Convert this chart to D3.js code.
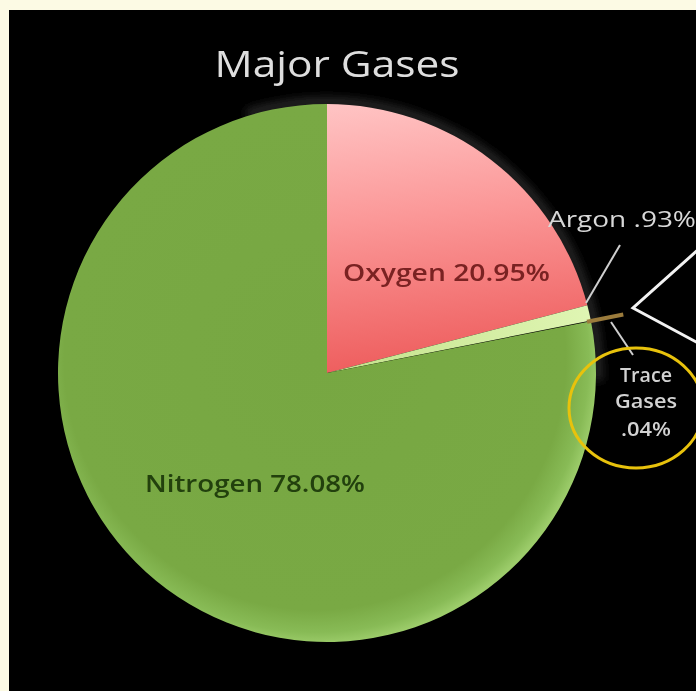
<!DOCTYPE html>
<html>
<head>
<meta charset="utf-8">
<script src="https://cdn.jsdelivr.net/npm/d3@7"></script>
<style>
  html, body { margin: 0; padding: 0; background: #fcfae4; }
  svg { display: block; }
</style>
</head>
<body>
<svg id="chart" width="696" height="691"></svg>
<script>
// ---- data ----
const categories = ["Oxygen", "Argon", "Trace Gases", "Nitrogen"];
const values = [20.95, 0.93, 0.04, 78.08];
const labelTexts = ["Oxygen 20.95%", "Argon .93%", "Trace Gases .04%", "Nitrogen 78.08%"];
const chartTitle = "Major Gases";

// ---- layout ----
const W = 696, H = 691;
const cx = 327, cy = 373, R = 269;
const FONT = "'Comic Sans MS', 'Open Sans', 'Noto Sans', sans-serif";

const svg = d3.select("#chart");
const defs = svg.append("defs");

// gradients (coordinates relative to pie centre, since slices live in a translated group)
const gN = defs.append("radialGradient").attr("id", "gN")
  .attr("gradientUnits", "userSpaceOnUse")
  .attr("cx", -12).attr("cy", -14).attr("r", R + 16);
gN.append("stop").attr("offset", 0).attr("stop-color", "#77a742");
gN.append("stop").attr("offset", 0.88).attr("stop-color", "#79a944");
gN.append("stop").attr("offset", 0.96).attr("stop-color", "#88bb56");
gN.append("stop").attr("offset", 1).attr("stop-color", "#9ccc6a");

const gO = defs.append("linearGradient").attr("id", "gO")
  .attr("gradientUnits", "userSpaceOnUse")
  .attr("x1", 0).attr("y1", -R).attr("x2", 30).attr("y2", 0);
gO.append("stop").attr("offset", 0).attr("stop-color", "#ffc4c4");
gO.append("stop").attr("offset", 0.45).attr("stop-color", "#fb9797");
gO.append("stop").attr("offset", 1).attr("stop-color", "#ee5e5e");

const gA = defs.append("linearGradient").attr("id", "gA")
  .attr("gradientUnits", "userSpaceOnUse")
  .attr("x1", 0).attr("y1", 0).attr("x2", R).attr("y2", -50);
gA.append("stop").attr("offset", 0).attr("stop-color", "#c2e28a");
gA.append("stop").attr("offset", 1).attr("stop-color", "#e0f6b4");

const blur = defs.append("filter").attr("id", "halo")
  .attr("x", "-20%").attr("y", "-20%").attr("width", "140%").attr("height", "140%");
blur.append("feGaussianBlur").attr("stdDeviation", 5);

const textBlur = defs.append("filter").attr("id", "soft");
textBlur.append("feGaussianBlur").attr("stdDeviation", 0.45);

const fills = { "Oxygen": "url(#gO)", "Argon": "url(#gA)", "Trace Gases": "#9b7b3c", "Nitrogen": "url(#gN)" };

// background panel
svg.append("rect").attr("x", 0).attr("y", 0).attr("width", W).attr("height", H).attr("fill", "#fcfae4");
svg.append("rect").attr("x", 9).attr("y", 10).attr("width", W - 9).attr("height", H - 10).attr("fill", "#000");

// title
svg.append("text")
  .attr("x", 337).attr("y", 77)
  .attr("text-anchor", "middle")
  .attr("font-family", FONT).attr("font-size", 36)
  .attr("textLength", 245).attr("lengthAdjust", "spacingAndGlyphs")
  .attr("fill", "#dedede")
  .attr("filter", "url(#soft)")
  .text(chartTitle);

// pie
const data = categories.map((c, i) => ({ name: c, value: values[i], label: labelTexts[i] }));
const pie = d3.pie().sort(null).value(d => d.value).startAngle(0).endAngle(2 * Math.PI);
const arcs = pie(data);
const arc = d3.arc().innerRadius(0).outerRadius(R);

const g = svg.append("g").attr("transform", `translate(${cx},${cy})`);

// soft dark-grey halo on the upper right of the pie
const haloArc = d3.arc().innerRadius(R - 2).outerRadius(R + 6)
  .startAngle(-0.3).endAngle(1.6);
g.append("path").attr("d", haloArc()).attr("fill", "#2e2e2e").attr("filter", "url(#halo)");

g.selectAll("path.slice")
  .data(arcs.filter(d => d.data.name !== "Trace Gases"))
  .join("path")
  .attr("class", "slice")
  .attr("d", arc)
  .attr("fill", d => fills[d.data.name]);

// trace gases: tiny slice drawn as a radial stroke that pokes outside the pie
const trace = arcs.find(d => d.data.name === "Trace Gases");
const ta = (trace.startAngle + trace.endAngle) / 2;
const polar = (a, r) => [Math.sin(a) * r, -Math.cos(a) * r];
const t0 = polar(ta, R - 4), t1 = polar(ta, R + 33);
g.append("line")
  .attr("x1", t0[0]).attr("y1", t0[1]).attr("x2", t1[0]).attr("y2", t1[1])
  .attr("stroke", fills["Trace Gases"]).attr("stroke-width", 4);

// slice labels
svg.append("text")
  .attr("x", 343).attr("y", 281)
  .attr("font-family", FONT).attr("font-size", 23).attr("font-weight", 600)
  .attr("textLength", 207).attr("lengthAdjust", "spacingAndGlyphs")
  .attr("fill", "#7a2222").attr("filter", "url(#soft)")
  .text(labelTexts[0]);

svg.append("text")
  .attr("x", 145).attr("y", 492)
  .attr("font-family", FONT).attr("font-size", 23).attr("font-weight", 600)
  .attr("textLength", 220).attr("lengthAdjust", "spacingAndGlyphs")
  .attr("fill", "#22400d").attr("filter", "url(#soft)")
  .text(labelTexts[3]);

svg.append("text")
  .attr("x", 548).attr("y", 227)
  .attr("font-family", FONT).attr("font-size", 22)
  .attr("textLength", 148).attr("lengthAdjust", "spacingAndGlyphs")
  .attr("fill", "#d8d8d8").attr("filter", "url(#soft)")
  .text(labelTexts[1]);

// trace label (three lines)
const traceLines = ["Trace", "Gases", ".04%"];
const traceW = [52, 62, 50];
const traceY = [382, 408, 436];
traceLines.forEach((t, i) => {
  svg.append("text")
    .attr("x", 646).attr("y", traceY[i])
    .attr("text-anchor", "middle")
    .attr("font-family", FONT).attr("font-size", 19).attr("font-weight", 600)
    .attr("textLength", traceW[i]).attr("lengthAdjust", "spacingAndGlyphs")
    .attr("fill", "#d2d2d2").attr("filter", "url(#soft)")
    .text(t);
});

// leader lines
svg.append("line").attr("x1", 620).attr("y1", 245).attr("x2", 586).attr("y2", 303)
  .attr("stroke", "#cfcfcf").attr("stroke-width", 2);
svg.append("line").attr("x1", 611).attr("y1", 322).attr("x2", 633).attr("y2", 355)
  .attr("stroke", "#cfcfcf").attr("stroke-width", 2);

// white "<" marker
svg.append("path")
  .attr("d", "M700,248 L633,308 L700,344")
  .attr("fill", "none").attr("stroke", "#f2f2f2").attr("stroke-width", 3);

// yellow ellipse around trace label
svg.append("ellipse")
  .attr("cx", 636).attr("cy", 408).attr("rx", 67).attr("ry", 60)
  .attr("fill", "none").attr("stroke", "#e8c20c").attr("stroke-width", 3);
</script>
</body>
</html>
